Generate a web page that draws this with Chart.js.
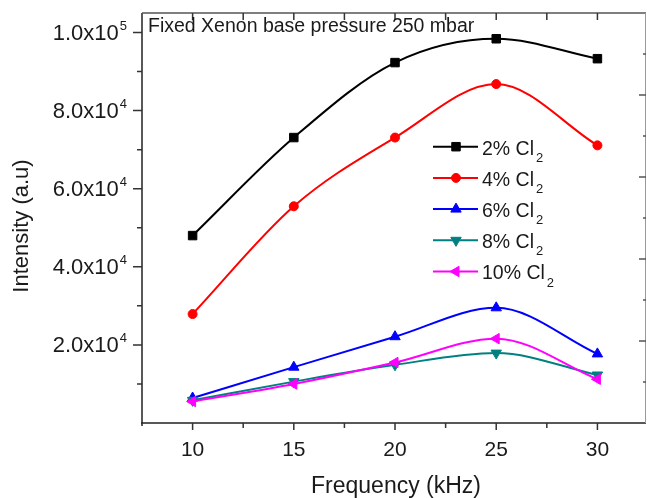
<!DOCTYPE html>
<html>
<head>
<meta charset="utf-8">
<script src="https://cdn.jsdelivr.net/npm/chart.js@4/dist/chart.umd.min.js"></script>
<style>
  html, body { margin:0; padding:0; background:#fff; }
  #c { display:block; }
</style>
</head>
<body>
<canvas id="c" width="647" height="498"></canvas>
<script>
// values
const freqs = [10, 15, 20, 25, 30];
const cl2  = [48000, 73100, 92300, 98400, 93300];
const cl4  = [27900, 55500, 73100, 86800, 71100];
const cl6  = [6400, 14300, 22100, 29500, 17700];
const cl8  = [5800, 10600, 14900, 17900, 12300];
const cl10 = [5500, 10000, 15500, 21600, 11200];
const seriesNames = ['2% Cl', '4% Cl', '6% Cl', '8% Cl', '10% Cl'];
const xTicks = [10, 15, 20, 25, 30];
const xMinor = [7.5, 12.5, 17.5, 22.5, 27.5, 32.5];
const yTicks = [20000, 40000, 60000, 80000, 100000];
const yMinor = [10000, 30000, 50000, 70000, 90000];
const yTickText = [['2.0x10','4'], ['4.0x10','4'], ['6.0x10','4'], ['8.0x10','4'], ['1.0x10','5']];
const rightTicks = [1, 2, 3, 4];
const rightMinor = [0.5, 1.5, 2.5, 3.5, 4.5];

const FONT = '"Liberation Sans", Arial, sans-serif';
const colors = ['#000000', '#ff0000', '#0000ff', '#008080', '#ff00ff'];
const styles = [
  { pointStyle:'rect', rotation:0, radius:6 },
  { pointStyle:'circle', rotation:0, radius:4.5 },
  { pointStyle:'triangle', rotation:0, radius:6 },
  { pointStyle:'triangle', rotation:180, radius:6 },
  { pointStyle:'triangle', rotation:-90, radius:6 }
];
const allSeries = [cl2, cl4, cl6, cl8, cl10];

const datasets = allSeries.map((vals, i) => ({
  label: seriesNames[i],
  data: freqs.map((f, j) => ({ x: f, y: vals[j] })),
  borderColor: colors[i],
  backgroundColor: colors[i],
  borderWidth: 2,
  pointStyle: styles[i].pointStyle,
  pointRotation: styles[i].rotation,
  pointRadius: styles[i].radius,
  pointBorderWidth: 1,
  cubicInterpolationMode: 'monotone',
  order: 5 - i
}));

const decor = {
  id: 'decor',
  afterDraw(chart) {
    const ctx = chart.ctx;
    const a = chart.chartArea;
    const xs = chart.scales.x, ys = chart.scales.y, y2 = chart.scales.y2;
    ctx.save();

    // frame
    ctx.lineWidth = 1.5;
    ctx.strokeStyle = '#222';
    ctx.beginPath();
    ctx.moveTo(a.left, a.top); ctx.lineTo(a.left, a.bottom + 3);
    ctx.moveTo(a.left - 1, a.bottom); ctx.lineTo(a.right, a.bottom);
    ctx.stroke();
    ctx.strokeStyle = '#555';
    ctx.beginPath();
    ctx.moveTo(a.left, a.top); ctx.lineTo(a.right, a.top);
    ctx.stroke();
    ctx.lineWidth = 1;
    ctx.strokeStyle = '#999';
    ctx.beginPath();
    ctx.moveTo(a.right - 0.5, a.top); ctx.lineTo(a.right - 0.5, a.bottom);
    ctx.stroke();

    // ticks
    ctx.lineWidth = 1.5;
    ctx.strokeStyle = '#333';
    ctx.beginPath();
    yTicks.forEach(v => { const p = ys.getPixelForValue(v); ctx.moveTo(a.left - 9, p); ctx.lineTo(a.left, p); });
    yMinor.forEach(v => { const p = ys.getPixelForValue(v); ctx.moveTo(a.left - 5, p); ctx.lineTo(a.left, p); });
    xTicks.forEach(v => { const p = xs.getPixelForValue(v); ctx.moveTo(p, a.bottom); ctx.lineTo(p, a.bottom + 7);
      ctx.moveTo(p, a.top); ctx.lineTo(p, a.top + 7); });
    xMinor.forEach(v => { const p = xs.getPixelForValue(v); if (p < a.left + 1 || p > a.right - 1) return;
      ctx.moveTo(p, a.bottom); ctx.lineTo(p, a.bottom + 5);
      ctx.moveTo(p, a.top); ctx.lineTo(p, a.top + 7); });
    ctx.stroke();
    ctx.strokeStyle = '#555';
    ctx.beginPath();
    rightTicks.forEach(v => { const p = y2.getPixelForValue(v); ctx.moveTo(a.right - 7, p); ctx.lineTo(a.right, p); });
    rightMinor.forEach(v => { const p = y2.getPixelForValue(v); ctx.moveTo(a.right - 3, p); ctx.lineTo(a.right, p); });
    ctx.stroke();

    // y tick labels with exponent
    ctx.fillStyle = '#1a1a1a';
    yTicks.forEach((v, i) => {
      const p = ys.getPixelForValue(v);
      ctx.font = '13px ' + FONT;
      ctx.textAlign = 'right';
      ctx.textBaseline = 'middle';
      ctx.fillText(yTickText[i][1], 127, p - 6.5);
      const w = ctx.measureText(yTickText[i][1]).width;
      ctx.font = '22px ' + FONT;
      ctx.fillText(yTickText[i][0], 127 - w - 1, p + 1);
    });

    // x tick labels
    ctx.font = '21px ' + FONT;
    ctx.textAlign = 'center';
    ctx.textBaseline = 'alphabetic';
    xTicks.forEach(v => ctx.fillText(String(v), xs.getPixelForValue(v), 455.5));

    // axis titles
    ctx.font = '23px ' + FONT;
    ctx.fillText('Frequency (kHz)', 396, 493);
    ctx.save();
    ctx.translate(28, 226);
    ctx.rotate(-Math.PI / 2);
    ctx.font = '22px ' + FONT;
    ctx.fillText('Intensity (a.u)', 0, 0);
    ctx.restore();

    // note
    ctx.font = '19.5px ' + FONT;
    ctx.textAlign = 'left';
    ctx.fillText('Fixed Xenon base pressure 250 mbar', 148, 31.5);

    // legend
    chart.data.datasets.forEach((ds, i) => {
      const y = 146.7 + i * 31.2;
      ctx.strokeStyle = ds.borderColor;
      ctx.fillStyle = ds.backgroundColor;
      ctx.lineWidth = 2;
      ctx.beginPath();
      ctx.moveTo(433, y); ctx.lineTo(478, y);
      ctx.stroke();
      ctx.lineWidth = 1;
      Chart.helpers.drawPoint(ctx, { pointStyle: ds.pointStyle, rotation: ds.pointRotation, radius: ds.pointRadius, borderWidth: 1 }, 456, y);
      ctx.fillStyle = '#1a1a1a';
      ctx.font = '19.5px ' + FONT;
      ctx.textBaseline = 'middle';
      ctx.fillText(ds.label, 482, y + 2.6);
      const w = ctx.measureText(ds.label).width;
      ctx.font = '13px ' + FONT;
      ctx.fillText('2', 482 + w + 2, y + 11.6);
    });

    ctx.restore();
  }
};

new Chart(document.getElementById('c'), {
  type: 'line',
  data: { datasets },
  options: {
    responsive: false,
    animation: false,
    layout: { autoPadding: false, padding: { left: 142, top: 13, right: 1, bottom: 75 } },
    plugins: { legend: { display: false }, tooltip: { enabled: false } },
    scales: {
      x: { type: 'linear', min: 7.5, max: 32.4, display: false },
      y: { min: 0, max: 105000, display: false },
      y2: { position: 'right', min: 0, max: 5, display: false }
    }
  },
  plugins: [decor]
});
</script>
</body>
</html>
